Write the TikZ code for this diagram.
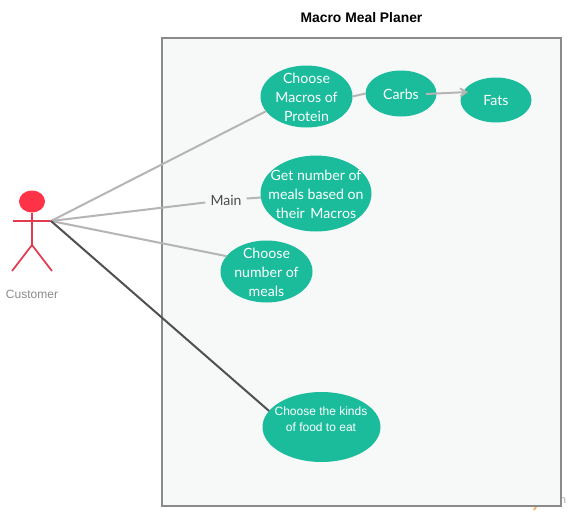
\documentclass[tikz,border=0pt]{standalone}
\usepackage{fontspec}
\setmainfont{Lato}
\newfontfamily\arialfont{Liberation Sans}
\usetikzlibrary{shapes.geometric,arrows.meta}
\definecolor{usecase}{HTML}{1ABC9C}
\definecolor{boxfill}{HTML}{F7F9F9}
\definecolor{boxline}{HTML}{8A8A8A}
\definecolor{linklight}{HTML}{B5B5B5}
\definecolor{linkdark}{HTML}{505050}
\definecolor{actorred}{HTML}{E23C52}
\definecolor{actorhead}{HTML}{FF3348}
\tikzset{
  uc/.style={ellipse,fill=usecase,draw=none,inner sep=0pt,outer sep=0pt},
  uctext/.style={text=white,align=center,font=\fontsize{10.6pt}{14.25pt}\selectfont,inner sep=0pt},
  uctextsmall/.style={text=white,align=center,font=\arialfont\fontsize{9pt}{12pt}\selectfont,inner sep=0pt},
  lightlink/.style={draw=linklight,line width=1.5pt},
  darklink/.style={draw=linkdark,line width=1.5pt},
  actorline/.style={draw=actorred,line width=1.3pt},
}
\begin{document}
\begin{tikzpicture}[x=0.75pt,y=-0.75pt]
\useasboundingbox (0,0) rectangle (571,515);
\fill[white] (0,0) rectangle (571,515);
% watermark remnants
\node[inner sep=0pt,text=gray!70,font=\arialfont\fontsize{8pt}{9pt}\selectfont] (wm) at (563,501) {n};
\draw[draw=orange!60,line width=1.5pt] (534,510) -- (537,505);
% system box
\node[draw=boxline,fill=boxfill,line width=1.5pt,minimum width=299.25pt,minimum height=351pt,inner sep=0pt] (sys) at (361.5,272) {};
\node[font=\arialfont\bfseries\fontsize{10.4pt}{12pt}\selectfont,inner sep=0pt] (title) at (361.5,18) {Macro Meal Planer};
% use cases
\node[uc,minimum width=69pt,minimum height=46.5pt] (protein) at (306.5,96.5) {};
\node[uc,minimum width=53.25pt,minimum height=34.5pt] (carbs) at (401,93.5) {};
\node[uc,minimum width=53.25pt,minimum height=33.75pt] (fats) at (496,100) {};
\node[uc,minimum width=83.25pt,minimum height=57pt] (get) at (316,193.5) {};
\node[uc,minimum width=69pt,minimum height=46.5pt] (meals) at (266.5,271.5) {};
\node[uc,minimum width=88.5pt,minimum height=52.5pt] (kinds) at (321.5,427) {};
\node[uctext] (tprotein) at (306.5,97.5) {Choose\\Macros of\\Protein};
\node[uctext] (tcarbs) at (401,94.5) {Carbs};
\node[uctext] (tfats) at (496,100.5) {Fats};
\node[uctext] (tget) at (316,194.5) {Get number of\\meals based on\\their\hspace{1.5pt} Macros};
\node[uctext] (tmeals) at (266.5,272.5) {Choose\\number of\\meals};
\node[uctextsmall] (tkinds) at (321,419) {Choose the kinds\\of food to eat};
% actor
\node[ellipse,fill=actorhead,inner sep=0pt,minimum width=19.5pt,minimum height=16.5pt] (head) at (32,201.5) {};
\coordinate (hand) at (51,221);
\coordinate (handl) at (13,221);
\coordinate (hip) at (32,245);
\coordinate (footl) at (12,271);
\coordinate (footr) at (52,271);
\draw[actorline] (head.south) -- (hip);
\draw[actorline] (handl) -- (hand);
\draw[actorline] (footl) -- (hip) -- (footr);
\node[inner sep=0pt,text=black!45,font=\arialfont\fontsize{9pt}{11pt}\selectfont] (customer) at (32,294) {Customer};
% connectors
\node[inner sep=0pt,inner xsep=3.75pt,text=black!70,font=\fontsize{10.5pt}{12pt}\selectfont] (main) at (226,200) {Main};
\draw[lightlink] (hand) -- (protein.200);
\draw[lightlink] (hand) -- (main);
\draw[lightlink] (main) -- (get);
\draw[lightlink] (hand) -- (meals.159);
\draw[darklink] (hand) -- (kinds.163);
\draw[lightlink] (protein.east) -- (carbs.west);
\coordinate (arrstart) at (426,94);
\coordinate (arrend) at (468,92);
\draw[lightlink,-{Straight Barb[length=4.5pt,width=6pt]}] (arrstart) -- (arrend);
\end{tikzpicture}
\end{document}
